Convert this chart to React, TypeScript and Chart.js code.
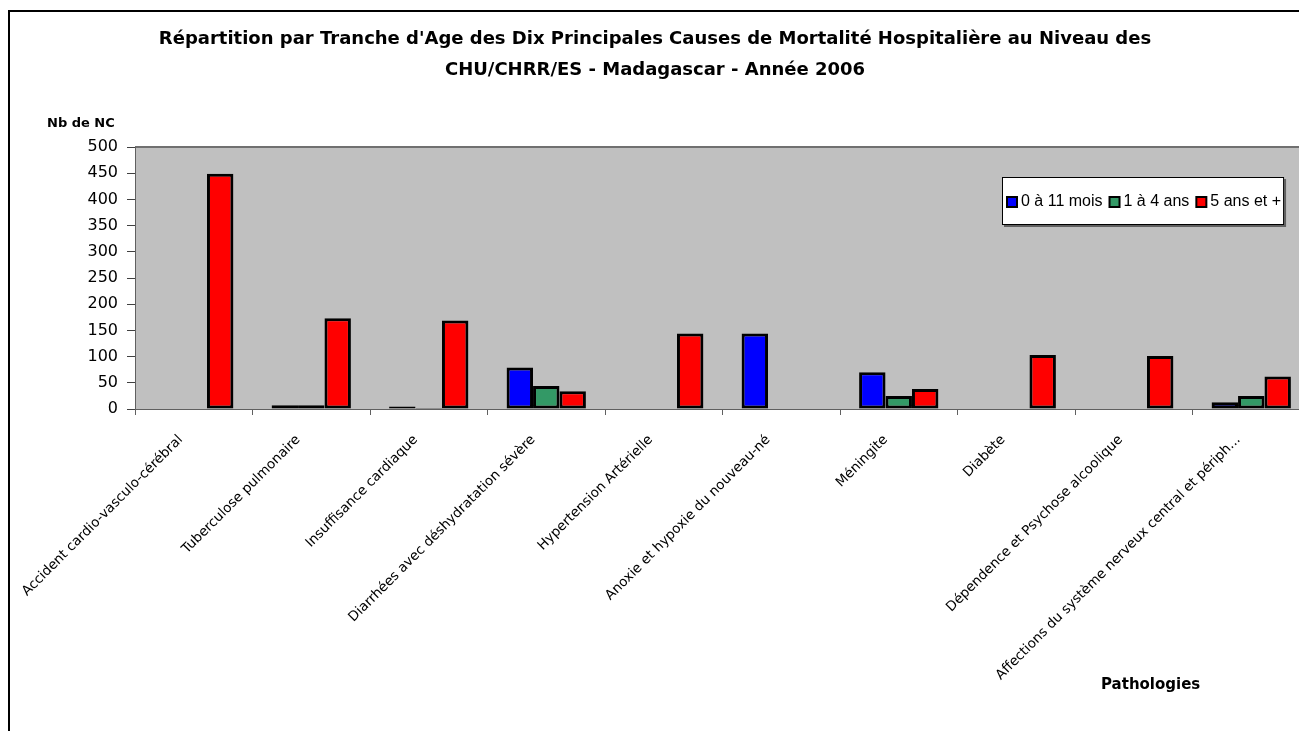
import React, { useEffect, useRef } from "react";
import { Chart, registerables } from "chart.js";

Chart.register(...registerables);

const categories = [
  "Accident cardio-vasculo-cérébral",
  "Tuberculose pulmonaire",
  "Insuffisance cardiaque",
  "Diarrhées avec déshydratation sévère",
  "Hypertension Artérielle",
  "Anoxie et hypoxie du nouveau-né",
  "Méningite",
  "Diabète",
  "Dépendence et Psychose alcoolique",
  "Affections du système nerveux central et périph...",
];

const seriesLabels = ["0 à 11 mois", "1 à 4 ans", "5 ans et +"];
const infants = [0, 7, 5, 79, 0, 144, 70, 0, 0, 13];
const children = [0, 7, 2, 44, 0, 0, 25, 1, 0, 25];
const adults = [449, 173, 169, 34, 144, 0, 38, 103, 101, 62];
const seriesColors = ["#0000FF", "#339966", "#FF0000"];

const yTicks = [0, 50, 100, 150, 200, 250, 300, 350, 400, 450, 500];

const titleLines = [
  "Répartition par Tranche d'Age des Dix Principales Causes de Mortalité Hospitalière au Niveau des",
  "CHU/CHRR/ES - Madagascar - Année 2006",
];
const yAxisTitle = "Nb de NC";
const xAxisTitle = "Pathologies";

const FONT = '"DejaVu Sans", Arial, sans-serif';
const LEGEND_FONT = '"Liberation Sans", Arial, sans-serif';

const CANVAS_W = 1310;
const CANVAS_H = 731;

const backgroundPlugin = {
  id: "bgPlugin",
  beforeDraw(chart: any) {
    const { ctx, chartArea, width, height } = chart;
    ctx.save();
    ctx.fillStyle = "#FFFFFF";
    ctx.fillRect(0, 0, width, height);
    // outer chart frame
    ctx.fillStyle = "#000000";
    ctx.fillRect(8, 10, width, 2);
    ctx.fillRect(8, 10, 2, height);
    // plot area
    ctx.fillStyle = "#C0C0C0";
    ctx.fillRect(chartArea.left, chartArea.top, chartArea.right - chartArea.left, chartArea.bottom - chartArea.top);
    ctx.fillStyle = "#707070";
    ctx.fillRect(chartArea.left, chartArea.top - 1, chartArea.right - chartArea.left, 2);
    ctx.restore();
  },
};

const overlayPlugin = {
  id: "overlayPlugin",
  afterDraw(chart: any) {
    const { ctx, chartArea } = chart;
    const ds = chart.data.datasets;
    ctx.save();
    // axis titles
    ctx.fillStyle = "#000";
    ctx.textBaseline = "middle";
    ctx.textAlign = "left";
    ctx.font = `bold 13px ${FONT}`;
    ctx.fillText(yAxisTitle, chartArea.left - 88, chartArea.top - 23);
    ctx.font = `bold 15px ${FONT}`;
    ctx.fillText(xAxisTitle, 1101, 685);

    // legend
    ctx.font = `16px ${LEGEND_FONT}`;
    const sw = 12, gap = 3, itemGap = 6, padL = 4, padR = 3;
    let w = padL + padR;
    ds.forEach((d: any, i: number) => {
      w += sw + gap + ctx.measureText(d.label).width + (i < ds.length - 1 ? itemGap : 0);
    });
    const left = chartArea.left + 867;
    const top = chartArea.top + 30;
    const h = 48;
    ctx.fillStyle = "#606060";
    ctx.fillRect(left + 2, top + 2, w, h);
    ctx.fillStyle = "#FFFFFF";
    ctx.fillRect(left, top, w, h);
    ctx.strokeStyle = "#000";
    ctx.lineWidth = 1;
    ctx.strokeRect(left + 0.5, top + 0.5, w - 1, h - 1);
    let x = left + padL;
    const cy = top + h / 2;
    ds.forEach((d: any) => {
      ctx.fillStyle = "#000";
      ctx.fillRect(x, cy - 5, sw, sw);
      ctx.fillStyle = d.backgroundColor;
      ctx.fillRect(x + 2, cy - 3, sw - 4, sw - 4);
      x += sw + gap;
      ctx.fillStyle = "#000";
      ctx.fillText(d.label, x, cy + 1);
      x += ctx.measureText(d.label).width + itemGap;
    });
    ctx.restore();
  },
};

export default function App() {
  const ref = useRef<HTMLCanvasElement | null>(null);

  useEffect(() => {
    if (!ref.current) return;
    const values = [infants, children, adults];
    const chart = new Chart(ref.current, {
      type: "bar",
      data: {
        labels: categories,
        datasets: seriesLabels.map((label, i) => ({
          label,
          data: values[i],
          backgroundColor: seriesColors[i],
          borderColor: "#000000",
          borderWidth: 3,
          borderSkipped: false,
          categoryPercentage: 0.675,
          barPercentage: 1.0,
        })),
      },
      options: {
        responsive: false,
        animation: false,
        devicePixelRatio: 1,
        layout: { padding: { left: 0, right: 0, top: 0, bottom: 0 } },
        plugins: {
          legend: { display: false },
          tooltip: { enabled: false },
          title: {
            display: true,
            text: titleLines,
            color: "#000",
            font: { family: FONT, size: 18, weight: "bold", lineHeight: 31 / 18 },
            padding: { top: 24, bottom: 61 },
          },
        },
        scales: {
          x: {
            afterFit(scale: any) {
              scale.height = CANVAS_H - 409;
            },
            grid: {
              offset: true,
              drawOnChartArea: false,
              drawTicks: true,
              tickLength: 6,
              color: "#606060",
            },
            border: { display: true, color: "#606060", width: 1 },
            ticks: {
              autoSkip: false,
              maxRotation: 45,
              minRotation: 45,
              color: "#000",
              padding: 17,
              labelOffset: -13,
              font: { family: FONT, size: 13.5 },
            },
          },
          y: {
            min: 0,
            max: 500,
            afterFit(scale: any) {
              scale.width = 135;
            },
            afterBuildTicks(scale: any) {
              scale.ticks = yTicks.map((v) => ({ value: v }));
            },
            grid: {
              drawOnChartArea: false,
              drawTicks: true,
              tickLength: 8,
              color: "#404040",
            },
            border: { display: true, color: "#606060", width: 1 },
            ticks: {
              color: "#000",
              padding: 9,
              font: { family: FONT, size: 16 },
            },
          },
        },
      },
      plugins: [backgroundPlugin, overlayPlugin],
    } as any);
    return () => chart.destroy();
  }, []);

  return (
    <div
      style={{
        position: "fixed",
        left: 0,
        top: 0,
        width: 1299,
        height: 731,
        overflow: "hidden",
        background: "#fff",
      }}
    >
      <canvas ref={ref} width={CANVAS_W} height={CANVAS_H} style={{ display: "block" }} />
    </div>
  );
}
